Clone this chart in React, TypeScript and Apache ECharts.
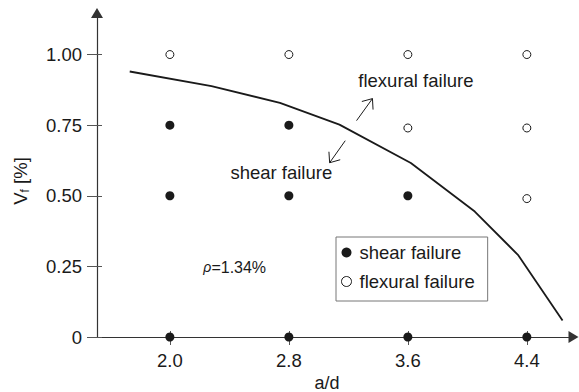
import React, { useEffect, useRef } from "react";
import * as echarts from "echarts";

// Test points: shear span ratio a/d vs. fibre volume fraction Vf [%]
const shearAd = [2.0, 2.0, 2.0, 2.8, 2.8, 2.8, 3.6, 3.6, 4.4];
const shearVf = [0.75, 0.5, 0, 0.75, 0.5, 0, 0.5, 0, 0];
const flexAd = [2.0, 2.8, 3.6, 3.6, 4.4, 4.4, 4.4];
const flexVf = [1.0, 1.0, 1.0, 0.74, 1.0, 0.74, 0.49];

// Failure-mode boundary
const boundaryAd = [1.73, 2.28, 2.74, 3.14, 3.62, 4.05, 4.34, 4.64];
const boundaryVf = [0.94, 0.888, 0.829, 0.752, 0.616, 0.444, 0.291, 0.058];

// Tick positions
const adTicks = [2.0, 2.8, 3.6, 4.4];
const vfTicks = [0, 0.25, 0.5, 0.75, 1.0];

// Annotation arrows (from -> to, in a/d, Vf)
const arrowFromAd = [3.255, 3.179];
const arrowFromVf = [0.766, 0.695];
const arrowToAd = [3.362, 3.074];
const arrowToVf = [0.844, 0.617];

// Annotation texts
const noteText = ["flexural failure", "shear failure", "{r|ρ}=1.34%"];
const noteAd = [3.654, 2.749, 2.436];
const noteVf = [0.909, 0.583, 0.247];
const noteSize = [18.5, 18.5, 16];

const FONT = "'Liberation Sans', Arial, Helvetica, sans-serif";
const INK = "#1a1a1a";
const FS = 18.5;

export default function App() {
  const ref = useRef<HTMLDivElement>(null);

  useEffect(() => {
    if (!ref.current) return;
    const chart = echarts.init(ref.current, null, { renderer: "svg" });

    const xBase = {
      type: "value",
      min: 1.51,
      max: 4.68,
      splitLine: { show: false },
    };
    const yBase = {
      type: "value",
      min: 0,
      max: 1.14,
      splitLine: { show: false },
    };

    chart.setOption({
      animation: false,
      backgroundColor: "#fff",
      textStyle: { fontFamily: FONT },
      grid: {
        left: 97,
        right: 10.5,
        top: 15,
        bottom: 55,
        containLabel: false,
        outerBoundsMode: "none",
      },
      // Axis titles
      graphic: [
        {
          type: "text",
          x: 327,
          y: 382.5,
          style: {
            text: "a/d",
            fontSize: 18,
            fontFamily: FONT,
            fill: INK,
            align: "center",
            verticalAlign: "middle",
          },
        },
        {
          type: "text",
          x: 20,
          y: 181,
          rotation: Math.PI / 2,
          style: {
            text: "{v|V}{s|f}{v| [%]}",
            fill: INK,
            align: "center",
            verticalAlign: "middle",
            rich: {
              v: { fontSize: FS, fill: INK, fontFamily: FONT },
              s: {
                fontSize: 12,
                fill: INK,
                fontFamily: FONT,
                padding: [10, 0, 0, 0],
              },
            },
          },
        },
      ],
      xAxis: [
        {
          ...xBase,
          position: "bottom",
          axisLine: {
            show: true,
            onZero: false,
            symbol: ["none", "triangle"],
            symbolSize: [12, 10],
            symbolOffset: [0, 5],
            lineStyle: { color: "#333", width: 1.2 },
          },
          axisTick: {
            show: true,
            length: 8,
            customValues: adTicks,
            lineStyle: { color: "#555", width: 1 },
          },
          axisLabel: {
            customValues: adTicks,
            formatter: (v: number) => v.toFixed(1),
            fontSize: FS,
            color: INK,
            fontFamily: FONT,
            margin: 14,
          },
        },
        {
          ...xBase,
          position: "bottom",
          axisLine: { show: false },
          axisTick: {
            show: true,
            inside: true,
            length: 6,
            customValues: adTicks,
            lineStyle: { color: "#555", width: 1 },
          },
          axisLabel: { show: false },
        },
      ],
      yAxis: [
        {
          ...yBase,
          position: "left",
          axisLine: {
            show: true,
            onZero: false,
            symbol: ["none", "triangle"],
            symbolSize: [12, 10],
            symbolOffset: [0, 2],
            lineStyle: { color: "#333", width: 1.2 },
          },
          axisTick: {
            show: true,
            length: 10,
            customValues: vfTicks,
            lineStyle: { color: "#555", width: 1 },
          },
          axisLabel: {
            customValues: vfTicks,
            formatter: (v: number) => (v === 0 ? "0" : v.toFixed(2)),
            fontSize: FS,
            color: INK,
            fontFamily: FONT,
            margin: 15,
          },
        },
        {
          ...yBase,
          position: "left",
          axisLine: { show: false },
          axisTick: {
            show: true,
            inside: true,
            length: 5,
            customValues: vfTicks,
            lineStyle: { color: "#555", width: 1 },
          },
          axisLabel: { show: false },
        },
      ],
      legend: {
        orient: "vertical",
        left: 336,
        top: 237,
        padding: [6, 13, 10, 5],
        itemGap: 10,
        itemWidth: 16,
        itemHeight: 10,
        borderColor: "#777",
        borderWidth: 1,
        backgroundColor: "#fff",
        textStyle: { fontSize: FS, color: INK, fontFamily: FONT },
        data: [
          {
            name: "shear failure",
            icon: "circle",
            itemStyle: { color: INK, borderWidth: 0, opacity: 1 },
          },
          {
            name: "flexural failure",
            icon: "circle",
            itemStyle: { color: "#fff", borderColor: INK, borderWidth: 1, opacity: 1 },
          },
        ],
      },
      series: [
        {
          type: "line",
          name: "boundary",
          data: boundaryAd.map((x, i) => [x, boundaryVf[i]]),
          showSymbol: false,
          symbol: "none",
          lineStyle: { color: INK, width: 1.8 },
          z: 3,
        },
        {
          type: "scatter",
          name: "shear failure",
          data: shearAd.map((x, i) => [x, shearVf[i]]),
          symbol: "circle",
          symbolSize: 9,
          itemStyle: { color: INK, opacity: 1 },
          clip: false,
          z: 6,
        },
        {
          type: "scatter",
          name: "flexural failure",
          data: flexAd.map((x, i) => [x, flexVf[i]]),
          symbol: "circle",
          symbolSize: 8,
          itemStyle: { color: "#fff", borderColor: INK, borderWidth: 1, opacity: 1 },
          clip: false,
          z: 6,
        },
        {
          type: "custom",
          name: "arrows",
          clip: false,
          silent: true,
          data: arrowFromAd.map((x, i) => [x, arrowFromVf[i], arrowToAd[i], arrowToVf[i]]),
          renderItem: (_params: any, api: any) => {
            const p0 = api.coord([api.value(0), api.value(1)]);
            const p1 = api.coord([api.value(2), api.value(3)]);
            const ang = Math.atan2(p0[1] - p1[1], p0[0] - p1[0]);
            const L = 11;
            const a = 0.68;
            const h1 = [p1[0] + L * Math.cos(ang + a), p1[1] + L * Math.sin(ang + a)];
            const h2 = [p1[0] + L * Math.cos(ang - a), p1[1] + L * Math.sin(ang - a)];
            return {
              type: "group",
              children: [
                {
                  type: "line",
                  shape: { x1: p0[0], y1: p0[1], x2: p1[0], y2: p1[1] },
                  style: { stroke: INK, lineWidth: 1 },
                },
                {
                  type: "polyline",
                  shape: { points: [h1, p1, h2] },
                  style: { stroke: INK, lineWidth: 1, fill: "none" },
                },
              ],
            };
          },
          z: 5,
        },
        {
          type: "custom",
          name: "notes",
          clip: false,
          silent: true,
          data: noteAd.map((x, i) => [x, noteVf[i]]),
          renderItem: (params: any, api: any) => {
            const p = api.coord([api.value(0), api.value(1)]);
            const i = params.dataIndex;
            return {
              type: "text",
              x: p[0],
              y: p[1],
              style: {
                text: noteText[i],
                fontSize: noteSize[i],
                fontFamily: FONT,
                fill: INK,
                align: "center",
                verticalAlign: "middle",
                rich: {
                  r: {
                    fontSize: noteSize[i] - 2,
                    fontStyle: "italic",
                    fontFamily: FONT,
                    fill: INK,
                  },
                },
              },
            };
          },
          z: 5,
        },
      ],
    });

    return () => chart.dispose();
  }, []);

  return (
    <div
      ref={ref}
      style={{ position: "fixed", left: 0, top: 0, width: 579, height: 392, background: "#fff" }}
    />
  );
}
